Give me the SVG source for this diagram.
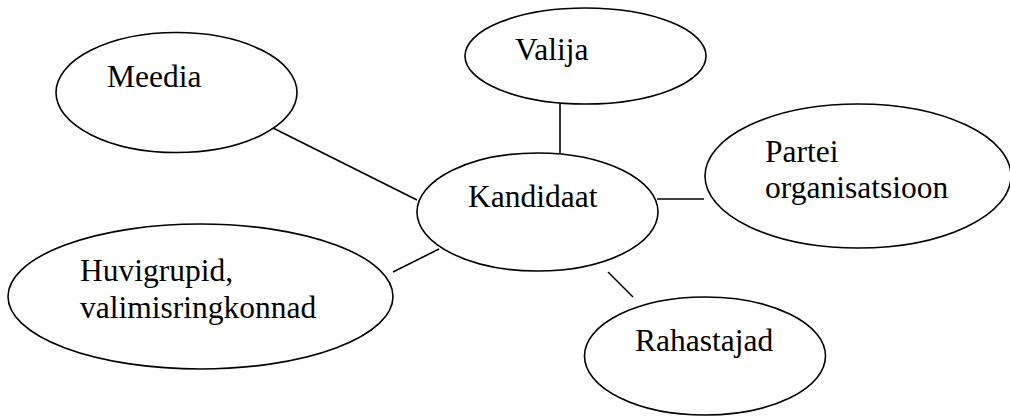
<svg xmlns="http://www.w3.org/2000/svg" width="1010" height="416" viewBox="0 0 1010 416">
<style>
.n{fill:#fff;stroke:#000;stroke-width:1.6}
.c line{stroke:#000;stroke-width:1.6}
.t{font-family:'Liberation Serif','Times New Roman','DejaVu Serif',serif;font-size:31.5px;fill:#000}
</style>
<rect width="1010" height="416" fill="#fff"/>
<g class="c" id="connectors">
<line x1="273" y1="128" x2="417" y2="200"/>
<line x1="560" y1="104" x2="560" y2="153"/>
<line x1="657" y1="199" x2="704" y2="199"/>
<line x1="393" y1="272" x2="439" y2="249"/>
<line x1="608" y1="272" x2="633" y2="297"/>
</g>
<g id="meedia"><ellipse class="n" cx="176.5" cy="92.5" rx="120.5" ry="60"/><text class="t" font-family="Liberation Serif, serif" x="107" y="87">Meedia</text></g>
<g id="valija"><ellipse class="n" cx="585.5" cy="56" rx="120.5" ry="48"/><text class="t" font-family="Liberation Serif, serif" x="515" y="60">Valija</text></g>
<g id="partei"><ellipse class="n" cx="858" cy="176" rx="153" ry="72"/><text class="t" font-family="Liberation Serif, serif" x="765" y="162">Partei</text><text class="t" font-family="Liberation Serif, serif" x="765" y="198">organisatsioon</text></g>
<g id="kandidaat"><ellipse class="n" cx="537.5" cy="212" rx="120.5" ry="59"/><text class="t" font-family="Liberation Serif, serif" x="468" y="207">Kandidaat</text></g>
<g id="huvigrupid"><ellipse class="n" cx="200.5" cy="296.5" rx="192.5" ry="72.5"/><text class="t" font-family="Liberation Serif, serif" x="80" y="281">Huvigrupid,</text><text class="t" font-family="Liberation Serif, serif" x="80" y="318">valimisringkonnad</text></g>
<g id="rahastajad"><ellipse class="n" cx="705" cy="356" rx="120.5" ry="59"/><text class="t" font-family="Liberation Serif, serif" x="635" y="351">Rahastajad</text></g>
</svg>
